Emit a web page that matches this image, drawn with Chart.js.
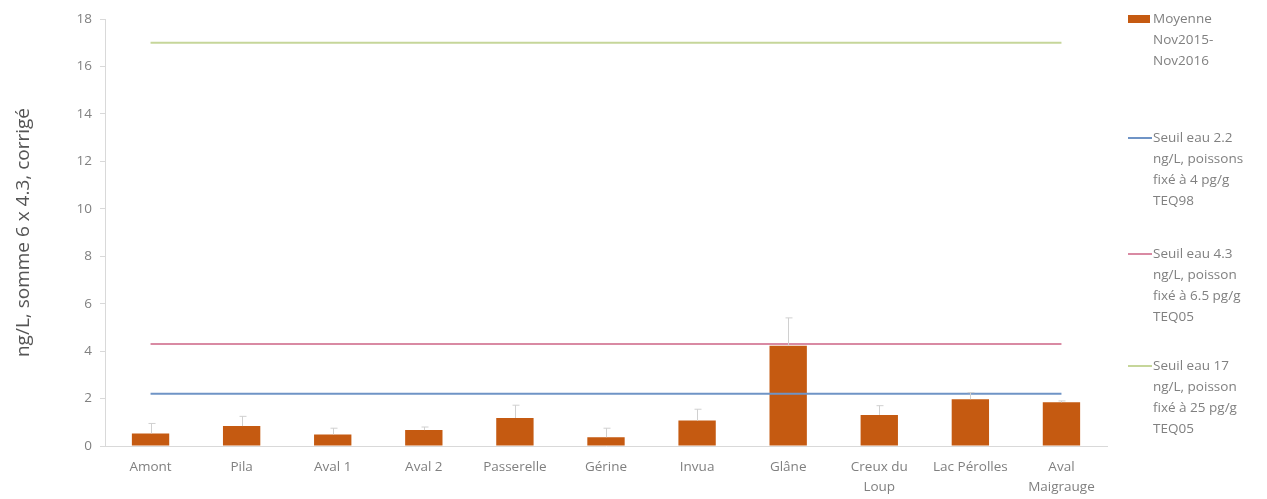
<!DOCTYPE html>
<html>
<head>
<meta charset="utf-8">
<script src="https://cdn.jsdelivr.net/npm/chart.js@4.4.0/dist/chart.umd.min.js"></script>
<style>
  body { margin: 0; background: #fff; font-family: "Open Sans", Lato, sans-serif; }
  #wrap { position: relative; width: 1267px; height: 499px; overflow: hidden; }
  #legend { position: absolute; left: 1128px; top: 8px; width: 160px; color: #808080; font-size: 13.5px; line-height: 21px; white-space: nowrap; }
  .item { position: absolute; left: 0; }
  .item .txt { margin-left: 25px; }
  .mark { position: absolute; left: 0; }
</style>
</head>
<body>
<div id="wrap">
  <canvas id="myChart" width="1267" height="499"></canvas>
  <div id="legend"></div>
</div>
<script>
// sites
var sites = ['Amont', 'Pila', 'Aval 1', 'Aval 2', 'Passerelle', 'Gérine', 'Invua', 'Glâne',
             ['Creux du', 'Loup'], 'Lac Pérolles', ['Aval', 'Maigrauge']];
// moyenne Nov2015-Nov2016, ng/L
var moyenne = [0.53, 0.84, 0.49, 0.67, 1.18, 0.37, 1.07, 4.23, 1.31, 1.97, 1.84];
// haut des barres d'erreur
var erreurHaut = [0.95, 1.25, 0.75, 0.8, 1.72, 0.75, 1.55, 5.4, 1.7, 2.25, 1.9];
// seuils
var seuil22 = [2.2, 2.2, 2.2, 2.2, 2.2, 2.2, 2.2, 2.2, 2.2, 2.2, 2.2];
var seuil43 = [4.3, 4.3, 4.3, 4.3, 4.3, 4.3, 4.3, 4.3, 4.3, 4.3, 4.3];
var seuil17 = [17, 17, 17, 17, 17, 17, 17, 17, 17, 17, 17];
var yTicks = [0, 2, 4, 6, 8, 10, 12, 14, 16, 18];

var legendLabels = [
    ['Moyenne', 'Nov2015-', 'Nov2016'],
    ['Seuil eau 2.2', 'ng/L, poissons', 'fixé à 4 pg/g', 'TEQ98'],
    ['Seuil eau 4.3', 'ng/L, poisson', 'fixé à 6.5 pg/g', 'TEQ05'],
    ['Seuil eau 17', 'ng/L, poisson', 'fixé à 25 pg/g', 'TEQ05']
];
var legendTops = [0, 119, 235, 347];

var orange = '#c55a11';
var bleu = '#6f94c6';
var rose = '#d98aa3';
var vert = '#c6d69a';

// petites barres d'erreur (comme dans Excel)
var errorBars = {
    id: 'errorBars',
    afterDatasetsDraw: function(chart) {
        var ctx = chart.ctx;
        var meta = chart.getDatasetMeta(0);
        var y = chart.scales.y;
        ctx.save();
        ctx.strokeStyle = '#d0d0d0';
        ctx.lineWidth = 1;
        meta.data.forEach(function(bar, i) {
            var top = y.getPixelForValue(erreurHaut[i]);
            var x = Math.round(bar.x) + 0.5;
            ctx.beginPath();
            ctx.moveTo(x, bar.y);
            ctx.lineTo(x, top);
            ctx.moveTo(x - 3, top);
            ctx.lineTo(x + 4, top);
            ctx.stroke();
        });
        ctx.restore();
    }
};

var ctx = document.getElementById('myChart').getContext('2d');
var chart = new Chart(ctx, {
    type: 'bar',
    data: {
        labels: sites,
        datasets: [{
            label: 'Moyenne Nov2015-Nov2016',
            data: moyenne,
            backgroundColor: orange,
            barPercentage: 0.41,
            categoryPercentage: 1,
            order: 2
        }, {
            type: 'line',
            label: 'Seuil eau 2.2',
            data: seuil22,
            borderColor: bleu,
            borderWidth: 2,
            pointRadius: 0,
            order: 1
        }, {
            type: 'line',
            label: 'Seuil eau 4.3',
            data: seuil43,
            borderColor: rose,
            borderWidth: 2,
            pointRadius: 0,
            order: 1
        }, {
            type: 'line',
            label: 'Seuil eau 17',
            data: seuil17,
            borderColor: vert,
            borderWidth: 2,
            pointRadius: 0,
            order: 1
        }]
    },
    options: {
        responsive: false,
        animation: false,
        layout: { padding: { left: 8, right: 160, top: 19, bottom: 4 } },
        plugins: {
            legend: { display: false },
            tooltip: { enabled: false }
        },
        scales: {
            x: {
                grid: { display: false, drawTicks: false },
                border: { color: '#d9d9d9' },
                ticks: { color: '#808080', font: { family: 'Open Sans', size: 13.5, lineHeight: 1.5 }, maxRotation: 0, autoSkip: false, padding: 11 },
                afterFit: function(s) { s.height = 49; }
            },
            y: {
                min: 0, max: 18,
                afterBuildTicks: function(s) { s.ticks = yTicks.map(function(v) { return { value: v }; }); },
                grid: { display: true, drawOnChartArea: false, tickLength: 5, color: '#d9d9d9' },
                border: { color: '#d9d9d9' },
                ticks: { color: '#808080', font: { family: 'Open Sans', size: 13.5 }, padding: 8 },
                title: { display: true, text: 'ng/L, somme 6 x 4.3, corrigé', color: '#555555', font: { family: 'Open Sans', size: 19 }, padding: { bottom: 12 } },
                afterFit: function(s) { s.width = 97; }
            }
        }
    },
    plugins: [errorBars]
});

// légende à droite
var colors = [orange, bleu, rose, vert];
var leg = document.getElementById('legend');
legendLabels.forEach(function(lines, i) {
    var d = document.createElement('div');
    d.className = 'item';
    d.style.top = legendTops[i] + 'px';
    var m = document.createElement('div');
    m.className = 'mark';
    if (i === 0) {
        m.style.top = '7px'; m.style.width = '22px'; m.style.height = '8px';
    } else {
        m.style.top = '10px'; m.style.width = '24px'; m.style.height = '2px';
    }
    m.style.background = colors[i];
    d.appendChild(m);
    var t = document.createElement('div');
    t.className = 'txt';
    t.innerHTML = lines.join('<br>');
    d.appendChild(t);
    leg.appendChild(d);
});
</script>
</body>
</html>
